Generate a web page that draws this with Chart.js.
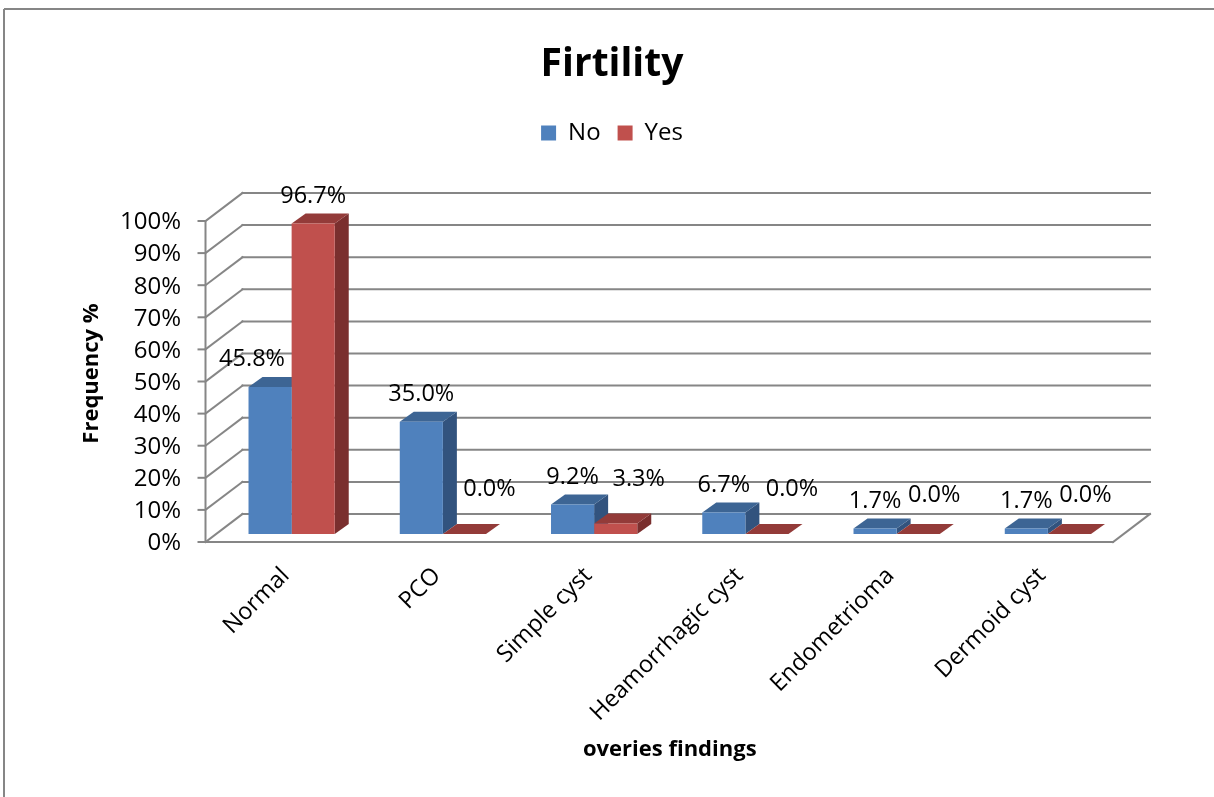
<!DOCTYPE html>
<html>
<head>
<meta charset="utf-8">
<title>Firtility</title>
<script src="https://cdn.jsdelivr.net/npm/chart.js@4.4.1/dist/chart.umd.min.js"></script>
<style>
  html, body { margin: 0; padding: 0; background: #ffffff; overflow: hidden; }
  canvas { display: block; }
</style>
</head>
<body>
<canvas id="chart" width="1214" height="797"></canvas>
<script>
// ---- data ----
const categories = ['Normal', 'PCO', 'Simple cyst', 'Heamorrhagic cyst', 'Endometrioma', 'Dermoid cyst'];
const seriesNames = ['No', 'Yes'];
const noValues = [45.8, 35.0, 9.2, 6.7, 1.7, 1.7];
const yesValues = [96.7, 0.0, 3.3, 0.0, 0.0, 0.0];
const yAxisMax = 100;
const yAxisStep = 10;

// ---- styling ----
const FONT = "'Open Sans', 'DejaVu Sans', sans-serif";
const GRID_COLOR = '#868686';
const FACE_COLORS = [
  { front: '#4F81BD', top: '#3D6594', side: '#32537E' },
  { front: '#C0504D', top: '#933B39', side: '#7A2F2E' }
];
// oblique projection used for the pseudo-3D walls and bar faces
const BAR_DEPTH = { dx: 14, dy: -10 };      // thickness of each bar
const BACK_WALL = { dx: 26.5, dy: -20 };    // bar plane -> back wall
const FRONT_EDGE = { dx: -10.5, dy: 8 };    // bar plane -> front edge of the floor

Chart.defaults.font.family = FONT;
Chart.defaults.color = '#000000';

function segment(ctx, x1, y1, x2, y2) {
  ctx.beginPath();
  ctx.moveTo(x1, y1);
  ctx.lineTo(x2, y2);
  ctx.stroke();
}

function polygon(ctx, pts, fill) {
  ctx.beginPath();
  ctx.moveTo(pts[0][0], pts[0][1]);
  for (let i = 1; i < pts.length; i++) ctx.lineTo(pts[i][0], pts[i][1]);
  ctx.closePath();
  ctx.fillStyle = fill;
  ctx.fill();
}

function barBox(bar) {
  const p = bar.getProps(['x', 'y', 'base', 'width'], true);
  return { cx: p.x, top: p.y, base: p.base, left: p.x - p.width / 2, right: p.x + p.width / 2 };
}

function overlaps(a, b, m) {
  return a.r + m > b.l && a.l - m < b.r && a.b + m > b.t && a.t - m < b.b;
}

// Outer frame, walls, floor and the top/side faces of every bar.
const bars3d = {
  id: 'bars3d',
  beforeDraw(chart) {
    const { ctx, width, height } = chart;
    ctx.save();
    ctx.fillStyle = '#ffffff';
    ctx.fillRect(0, 0, width, height);
    ctx.strokeStyle = GRID_COLOR;
    ctx.lineWidth = 2;
    segment(ctx, 4, 9, width, 9);
    segment(ctx, 4, 9, 4, height);
    ctx.restore();
  },
  beforeDatasetsDraw(chart) {
    const { ctx, chartArea: a, scales: { y } } = chart;
    const rows = y.ticks.map(t => y.getPixelForValue(t.value));
    const y0 = y.getPixelForValue(0);
    const yTop = y.getPixelForValue(yAxisMax);
    ctx.save();
    ctx.strokeStyle = GRID_COLOR;
    ctx.lineWidth = 2;
    ctx.lineCap = 'square';
    // back wall gridlines
    rows.forEach(py => segment(ctx, a.left + BACK_WALL.dx, py + BACK_WALL.dy, a.right + BACK_WALL.dx, py + BACK_WALL.dy));
    // side wall diagonals
    rows.forEach(py => segment(ctx, a.left + FRONT_EDGE.dx, py + FRONT_EDGE.dy, a.left + BACK_WALL.dx, py + BACK_WALL.dy));
    // floor front and right edges
    segment(ctx, a.left + FRONT_EDGE.dx, y0 + FRONT_EDGE.dy, a.right + FRONT_EDGE.dx, y0 + FRONT_EDGE.dy);
    segment(ctx, a.right + FRONT_EDGE.dx, y0 + FRONT_EDGE.dy, a.right + BACK_WALL.dx, y0 + BACK_WALL.dy);
    // value axis line and tick marks
    ctx.lineCap = 'butt';
    segment(ctx, a.left + FRONT_EDGE.dx, yTop + FRONT_EDGE.dy - 1, a.left + FRONT_EDGE.dx, y0 + FRONT_EDGE.dy + 1);
    rows.forEach(py => segment(ctx, a.left + FRONT_EDGE.dx - 8, py + FRONT_EDGE.dy, a.left + FRONT_EDGE.dx, py + FRONT_EDGE.dy));

    // bar side and top faces (front faces are drawn by Chart.js afterwards)
    chart.data.datasets.forEach((ds, di) => {
      const colors = FACE_COLORS[di];
      chart.getDatasetMeta(di).data.forEach(bar => {
        const b = barBox(bar);
        const { dx, dy } = BAR_DEPTH;
        polygon(ctx, [[b.right, b.top], [b.right + dx, b.top + dy], [b.right + dx, b.base + dy], [b.right, b.base]], colors.side);
        polygon(ctx, [[b.left, b.top], [b.right, b.top], [b.right + dx, b.top + dy], [b.left + dx, b.top + dy]], colors.top);
      });
    });
    ctx.restore();
  },
  // value labels above the bars, nudged aside when they would collide with a bar or an earlier label
  afterDatasetsDraw(chart) {
    const { ctx } = chart;
    const rise = 27.5, textH = 16, margin = 6;
    const obstacles = [];
    chart.data.datasets.forEach((ds, di) => {
      chart.getDatasetMeta(di).data.forEach((bar, i) => {
        const b = barBox(bar);
        obstacles.push({ owner: di + ':' + i, l: b.left, r: b.right + BAR_DEPTH.dx, t: b.top + BAR_DEPTH.dy, b: b.base });
      });
    });
    ctx.save();
    ctx.font = '23.5px ' + FONT;
    ctx.fillStyle = '#000000';
    ctx.textAlign = 'center';
    ctx.textBaseline = 'middle';
    chart.data.datasets.forEach((ds, di) => {
      chart.getDatasetMeta(di).data.forEach((bar, i) => {
        const b = barBox(bar);
        const own = di + ':' + i;
        const text = ds.data[i].toFixed(1) + '%';
        const w = ctx.measureText(text).width;
        let cx = b.cx, cy = b.top - rise;
        const boxAt = () => ({ l: cx - w / 2, r: cx + w / 2, t: cy - textH / 2, b: cy + textH / 2 });
        for (let step = 0; step < 160; step++) {
          const box = boxAt();
          const hit = obstacles.find(o => o.owner !== own && overlaps(box, o, margin));
          if (!hit) break;
          const dir = cx >= (hit.l + hit.r) / 2 ? 1 : -1;
          cx += dir;
          if (dir > 0) cy -= 0.7;
        }
        ctx.fillText(text, cx, cy);
        const placed = boxAt();
        placed.owner = 'label ' + own;
        obstacles.push(placed);
      });
    });
    ctx.restore();
  }
};

const datasets = [noValues, yesValues].map((values, di) => ({
  label: seriesNames[di],
  data: values,
  backgroundColor: FACE_COLORS[di].front,
  borderWidth: 0,
  categoryPercentage: 0.57,
  barPercentage: 1.0
}));

new Chart(document.getElementById('chart'), {
  type: 'bar',
  data: { labels: categories, datasets },
  plugins: [bars3d],
  options: {
    responsive: false,
    animation: false,
    devicePixelRatio: 1,
    layout: { padding: { left: 10, right: 0, top: 0, bottom: 0 } },
    plugins: {
      title: {
        display: true,
        text: 'Firtility',
        font: { size: 39, weight: 'bold', lineHeight: 1.2 },
        color: '#000000',
        padding: { top: 41.5, bottom: 15.7 }
      },
      // empty spacer between the legend and the plot
      subtitle: {
        display: true,
        text: '',
        weight: 500,
        font: { size: 10, lineHeight: 1 },
        padding: { top: 48, bottom: 0 }
      },
      legend: {
        display: true,
        position: 'top',
        labels: { font: { size: 24 }, boxWidth: 15, boxHeight: 15, padding: 17, color: '#000000' }
      },
      tooltip: { enabled: false }
    },
    scales: {
      x: {
        grid: { display: false, drawTicks: false },
        border: { display: false },
        ticks: { font: { size: 23.5 }, maxRotation: 45, minRotation: 45, padding: 28, labelOffset: -6, color: '#000000' },
        title: { display: true, text: 'overies findings', font: { size: 22, weight: 'bold' }, padding: { top: 0, bottom: 34 }, color: '#000000' },
        afterFit(scale) { scale.height = 263; }
      },
      y: {
        min: 0,
        max: yAxisMax,
        grid: { display: false, drawTicks: false },
        border: { display: false },
        ticks: { stepSize: yAxisStep, font: { size: 24 }, padding: 35, labelOffset: 9.5, color: '#000000', callback: v => v + '%' },
        title: { display: true, text: 'Frequency %', font: { size: 22, weight: 'bold' }, padding: { top: 69, bottom: 0 }, color: '#000000' },
        afterFit(scale) { scale.width = 206; }
      },
      yRight: {
        position: 'right',
        display: true,
        grid: { display: false, drawTicks: false },
        border: { display: false },
        ticks: { display: false },
        afterFit(scale) { scale.width = 90.5; }
      }
    }
  }
});
</script>
</body>
</html>
